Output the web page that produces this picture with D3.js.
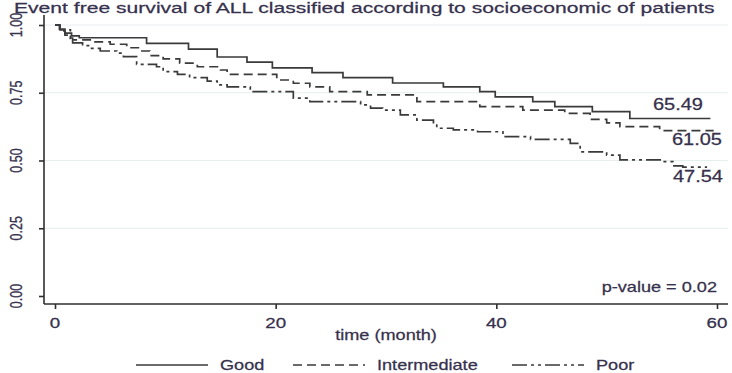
<!DOCTYPE html>
<html>
<head>
<meta charset="utf-8">
<script src="https://cdn.jsdelivr.net/npm/d3@7"></script>
<style>
  body { margin: 0; background: #fff; }
  svg { display: block; }
</style>
</head>
<body>
<div id="chart"></div>
<script>
// Kaplan-Meier steps (time in months, survival 0-1)
let goodTime  = [0, 0.4, 0.9, 1.5, 2.2, 8.3, 12.1, 14.7, 17.4, 19.7, 23.3, 26.1, 30.6, 35.2, 38.5, 39.9, 43.3, 45.3, 48.7, 52.1, 59.4];
let goodSurv  = [1, 0.985, 0.97, 0.96, 0.953, 0.932, 0.911, 0.882, 0.863, 0.842, 0.824, 0.806, 0.786, 0.772, 0.754, 0.735, 0.717, 0.699, 0.68, 0.6549, 0.6549];

let interTime = [0, 0.45, 0.9, 1.4, 1.6, 3.4, 5.0, 6.5, 7.7, 8.6, 9.8, 11.3, 12.9, 15.0, 15.6, 20.1, 21.6, 23.1, 24.9, 28.3, 32.8, 38.5, 42.4, 46.2, 48.5, 50.0, 51.2, 54.8, 59.7];
let interSurv = [1, 0.978, 0.963, 0.952, 0.945, 0.938, 0.929, 0.916, 0.904, 0.887, 0.875, 0.859, 0.846, 0.834, 0.818, 0.797, 0.785, 0.772, 0.754, 0.742, 0.717, 0.699, 0.686, 0.674, 0.652, 0.639, 0.625, 0.6105, 0.6105];

let poorTime  = [0, 0.45, 1.4, 1.6, 2.5, 3.2, 4.1, 5.6, 6.2, 7.4, 9.2, 9.8, 11.1, 12.2, 13.8, 14.7, 15.6, 17.7, 21.6, 23.1, 27.7, 28.6, 29.7, 31.3, 32.8, 34.3, 34.6, 36.1, 38.3, 40.6, 43.1, 46.7, 47.6, 50.0, 51.2, 55.1, 56.0, 56.9, 59.1];
let poorSurv  = [1, 0.982, 0.951, 0.934, 0.924, 0.914, 0.904, 0.896, 0.883, 0.855, 0.846, 0.828, 0.818, 0.806, 0.793, 0.779, 0.772, 0.754, 0.73, 0.717, 0.705, 0.693, 0.686, 0.668, 0.649, 0.631, 0.619, 0.613, 0.606, 0.588, 0.578, 0.563, 0.532, 0.52, 0.502, 0.496, 0.48, 0.4754, 0.4754];

let groups    = ["Good", "Intermediate", "Poor"];
let endLabels = ["65.49", "61.05", "47.54"];
let xTicks    = [0, 20, 40, 60];
let yTicks    = [0, 0.25, 0.5, 0.75, 1];

let width = 732, height = 373;
let sx = 1.25; // the picture is stretched sideways, text too
let ink = "#36314d";
let font = "'Liberation Sans', Arial, sans-serif";

let x = d3.scaleLinear().domain([0, 60]).range([55, 717]);
let y = d3.scaleLinear().domain([0, 1]).range([296, 25]);

let dashes = [null, "9,5", "15,4,3,4,3,4"];

const svg = d3.select("#chart").append("svg")
    .attr("width", width)
    .attr("height", height)
    .style("font-family", font);

function txt(px, py, s, size, anchor, scl) {
  return svg.append("text")
      .attr("transform", `translate(${px},${py}) scale(${scl || sx},1)`)
      .attr("text-anchor", anchor || "start")
      .attr("font-size", size)
      .attr("fill", ink)
      .attr("stroke", ink)
      .attr("stroke-width", 0.25)
      .text(s);
}

// title, runs nearly to the edge like the original
txt(14, 13, "Event free survival of ALL classified according to socioeconomic of patients", 15.4, "start", 1.37);

// light grid
svg.append("g")
  .selectAll("line")
  .data(yTicks.filter(d => d > 0))
  .join("line")
    .attr("x1", 44).attr("x2", 728)
    .attr("y1", d => y(d)).attr("y2", d => y(d))
    .attr("stroke", "#e6eeee")
    .attr("stroke-width", 1);

// axes
let yAxis = svg.append("g")
    .attr("transform", "translate(44,0)")
    .call(d3.axisLeft(y).tickValues(yTicks).tickSize(5).tickFormat(""));
yAxis.select(".domain").attr("d", "M0,15V304");

let xAxis = svg.append("g")
    .attr("transform", "translate(0,304)")
    .call(d3.axisBottom(x).tickValues(xTicks).tickSize(5).tickFormat(""));
xAxis.select(".domain").attr("d", "M44,0H728");

svg.selectAll(".domain, .tick line")
    .attr("stroke", "#2f2f2f")
    .attr("stroke-width", 1.6);

yTicks.forEach(t => {
  svg.append("text")
      .attr("transform", `translate(22,${y(t)}) scale(${sx},1) rotate(-90)`)
      .attr("text-anchor", "middle")
      .attr("font-size", 12.5)
      .attr("fill", ink)
      .attr("stroke", ink)
      .attr("stroke-width", 0.25)
      .text(d3.format(".2f")(t));
});

xTicks.forEach(t => txt(x(t), 328, String(t), 15, "middle"));

txt(386, 340, "time (month)", 14.5, "middle");

// survival curves
let series = [
  goodTime.map((t, i) => [t, goodSurv[i]]),
  interTime.map((t, i) => [t, interSurv[i]]),
  poorTime.map((t, i) => [t, poorSurv[i]])
];

let line = d3.line()
    .x(d => x(d[0]))
    .y(d => y(d[1]))
    .curve(d3.curveStepAfter);

svg.append("g")
  .selectAll("path")
  .data(series)
  .join("path")
    .attr("d", line)
    .attr("fill", "none")
    .attr("stroke", "#3a3a3a")
    .attr("stroke-width", 1.7)
    .attr("stroke-dasharray", (d, i) => dashes[i]);

// end values
txt(703, 110, endLabels[0], 16, "end");
txt(722, 145, endLabels[1], 16, "end");
txt(723, 182, endLabels[2], 16, "end");

txt(717, 292, "p-value = 0.02", 14.5, "end");

// legend
let legX = [136, 293, 512];
let legG = svg.append("g");
groups.forEach((g, i) => {
  legG.append("line")
      .attr("x1", legX[i]).attr("x2", legX[i] + 72)
      .attr("y1", 365).attr("y2", 365)
      .attr("stroke", "#3a3a3a")
      .attr("stroke-width", 1.7)
      .attr("stroke-dasharray", dashes[i]);
  txt(legX[i] + 84, 370, g, 14.5);
});
</script>
</body>
</html>
